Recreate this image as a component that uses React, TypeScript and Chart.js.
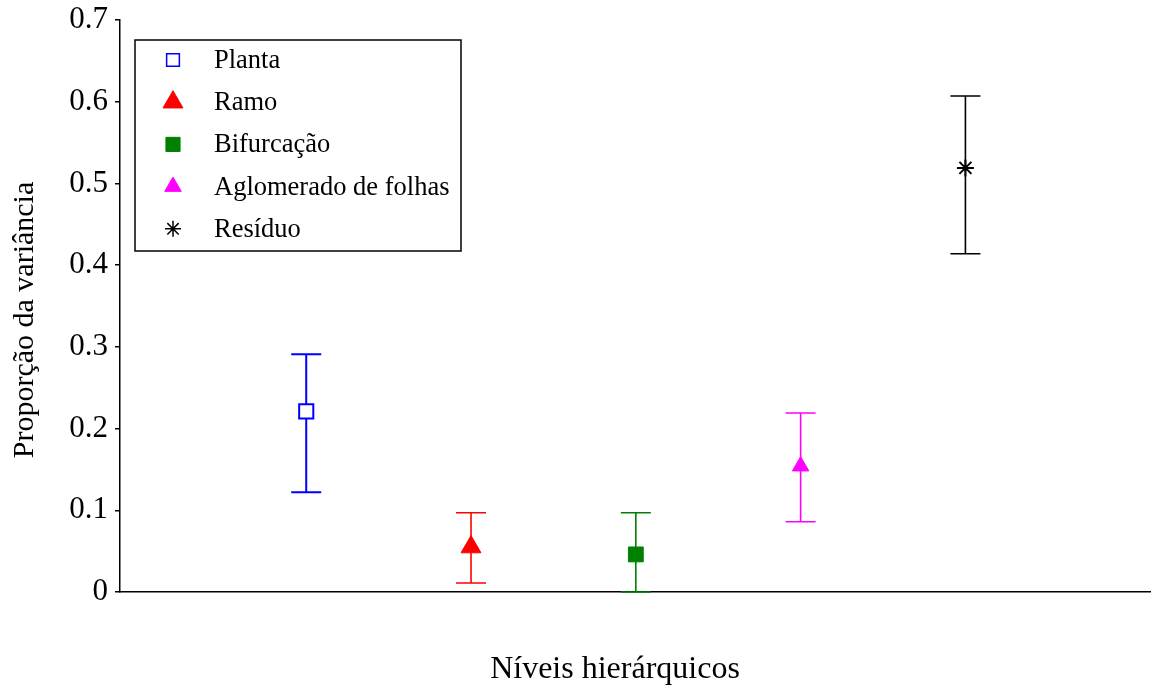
import React, { useEffect, useRef } from 'react';
import { Chart, registerables } from 'chart.js';
import { drawPoint } from 'chart.js/helpers';

Chart.register(...registerables);

const categories = ['Planta', 'Ramo', 'Bifurcação', 'Aglomerado de folhas', 'Resíduo'];
const xPositions = [1, 2, 3, 4, 5];
const means = [0.221, 0.055, 0.046, 0.154, 0.519];
const lowerBounds = [0.122, 0.011, 0.0, 0.086, 0.414];
const upperBounds = [0.291, 0.097, 0.097, 0.219, 0.607];
const yTicks = [0, 0.1, 0.2, 0.3, 0.4, 0.5, 0.6, 0.7];
const yTickLabels = ['0', '0.1', '0.2', '0.3', '0.4', '0.5', '0.6', '0.7'];
const colors = ['#0000ff', '#ff0000', '#008000', '#ff00ff', '#000000'];
const fills = ['#ffffff', '#ff0000', '#008000', '#ff00ff', '#000000'];
const pointStyles = ['rect', 'triangle', 'rect', 'triangle', 'star'];
const pointRadii = [10, 11.5, 10.5, 9.5, 8.5];
const legendRadii = [9, 11.5, 10, 9.5, 8];
const yTitle = 'Proporção da variância';
const xTitle = 'Níveis hierárquicos';

const FONT = '"Liberation Serif", "Times New Roman", serif';

const overlayPlugin = {
  id: 'overlay',
  beforeDatasetsDraw(chart: any) {
    const { ctx } = chart;
    const xs = chart.scales.x;
    const ys = chart.scales.y;
    ctx.save();
    for (let i = 0; i < categories.length; i++) {
      const x = xs.getPixelForValue(xPositions[i]);
      const yl = ys.getPixelForValue(lowerBounds[i]);
      const yu = ys.getPixelForValue(upperBounds[i]);
      ctx.strokeStyle = colors[i];
      ctx.lineWidth = i === 0 ? 2 : 1.6;
      ctx.beginPath();
      ctx.moveTo(x, yl);
      ctx.lineTo(x, yu);
      ctx.moveTo(x - 15, yl);
      ctx.lineTo(x + 15, yl);
      ctx.moveTo(x - 15, yu);
      ctx.lineTo(x + 15, yu);
      ctx.stroke();
    }
    ctx.restore();
  },
  afterDraw(chart: any) {
    const { ctx } = chart;
    ctx.save();
    const lx = 135, ly = 40, lw = 326, lh = 211;
    ctx.strokeStyle = '#000';
    ctx.lineWidth = 1.5;
    ctx.strokeRect(lx, ly, lw, lh);
    ctx.font = `26.5px ${FONT}`;
    ctx.textAlign = 'left';
    ctx.textBaseline = 'middle';
    for (let i = 0; i < categories.length; i++) {
      const y = 60 + i * 42.2;
      ctx.fillStyle = fills[i];
      ctx.strokeStyle = colors[i];
      ctx.lineWidth = i === 0 || i === 4 ? 1.5 : 1;
      drawPoint(ctx, { pointStyle: pointStyles[i], radius: legendRadii[i], rotation: 0, borderWidth: ctx.lineWidth } as any, 173, y);
      ctx.fillStyle = '#000';
      ctx.fillText(categories[i], 214, y + 1);
    }
    ctx.fillStyle = '#000';
    ctx.font = `32px ${FONT}`;
    ctx.textAlign = 'center';
    ctx.textBaseline = 'alphabetic';
    ctx.fillText(xTitle, 615, 678);
    ctx.font = `30px ${FONT}`;
    ctx.translate(33, 320);
    ctx.rotate(-Math.PI / 2);
    ctx.fillText(yTitle, 0, 0);
    ctx.restore();
  },
};

export default function App() {
  const canvasRef = useRef<HTMLCanvasElement>(null);

  useEffect(() => {
    if (!canvasRef.current) return;
    const datasets = categories.map((name, i) => ({
      label: name,
      data: [{ x: xPositions[i], y: means[i] }],
      pointStyle: pointStyles[i],
      pointRadius: pointRadii[i],
      pointHoverRadius: pointRadii[i],
      backgroundColor: fills[i],
      borderColor: colors[i],
      pointBorderWidth: i === 0 || i === 4 ? 2 : 1,
      showLine: false,
    }));
    const chart = new Chart(canvasRef.current, {
      type: 'scatter',
      data: { datasets } as any,
      options: {
        animation: false,
        responsive: false,
        maintainAspectRatio: false,
        layout: { autoPadding: false, padding: { top: 20, right: 1, left: 0, bottom: 0 } },
        plugins: {
          legend: { display: false },
          tooltip: { enabled: false },
          title: { display: false },
        },
        scales: {
          x: {
            type: 'linear',
            min: -0.13,
            max: 6.12,
            grid: { display: false, drawTicks: false },
            border: { display: true, color: '#000', width: 1.5 },
            ticks: { display: false },
            afterFit: (s: any) => {
              s.height = 97;
              s.paddingLeft = 0; s.paddingRight = 0; s.paddingTop = 0; s.paddingBottom = 0;
            },
          },
          y: {
            type: 'linear',
            min: 0,
            max: 0.7,
            afterBuildTicks: (s: any) => { s.ticks = yTicks.map((v) => ({ value: v })); },
            grid: { drawOnChartArea: false, drawTicks: true, tickLength: 5, color: '#000', lineWidth: 1.5 },
            border: { display: true, color: '#000', width: 1.5 },
            ticks: {
              color: '#000',
              padding: 7,
              font: { family: FONT, size: 31 },
              callback: (v: any) => {
                const idx = yTicks.findIndex((t) => Math.abs(t - Number(v)) < 1e-9);
                return idx >= 0 ? yTickLabels[idx] : '';
              },
            },
            afterFit: (s: any) => {
              s.width = 120;
              s.paddingLeft = 0; s.paddingRight = 0; s.paddingTop = 0; s.paddingBottom = 0;
            },
          },
        },
      },
      plugins: [overlayPlugin],
    } as any);
    return () => chart.destroy();
  }, []);

  return (
    <div style={{ position: 'fixed', left: 0, top: 0, width: 1151, height: 689, background: '#fff' }}>
      <canvas ref={canvasRef} width={1151} height={689} style={{ width: 1151, height: 689 }} />
    </div>
  );
}
